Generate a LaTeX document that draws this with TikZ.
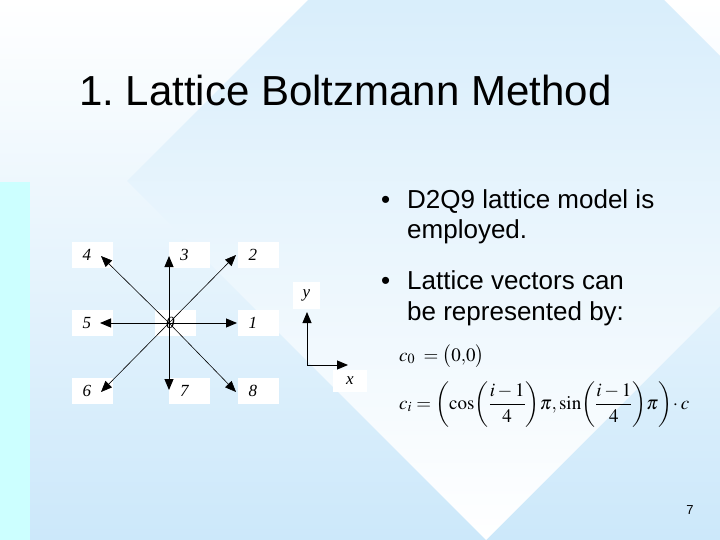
\documentclass[tikz,border=0pt]{standalone}
\usepackage{amsmath}
\usepackage{mathptmx}
\usepackage[no-math]{fontspec}
\setmainfont{Liberation Sans}
\newfontfamily\labelfont{Liberation Serif}
\usetikzlibrary{arrows.meta}
\definecolor{slideblue}{RGB}{204,232,250}
\definecolor{stripcyan}{RGB}{204,255,255}
\frenchspacing
\tikzstyle{box}=[fill=white, minimum height=26pt, inner ysep=0pt, inner xsep=11pt, text width=19pt, align=left, font=\labelfont\itshape\fontsize{17}{17}\selectfont]
\tikzstyle{axbox}=[fill=white, minimum width=27pt, minimum height=27pt, inner sep=0pt, font=\labelfont\itshape\fontsize{17}{17}\selectfont]
\tikzstyle{vec}=[-{Triangle[length=11pt,width=9pt]}, line width=0.9pt]
\tikzstyle{dvec}=[-{Triangle[length=11pt,width=9pt]}, line width=0.6pt]
\tikzstyle{body}=[anchor=base west, inner sep=0pt, font=\fontsize{26}{30}\selectfont]
\tikzstyle{formula}=[anchor=base west, inner sep=0pt, font=\fontsize{19}{19}\selectfont]

\begin{document}
\begin{tikzpicture}[x=1pt,y=-1pt]
	\useasboundingbox (0,0) rectangle (720,540);
	% slide background
	\begin{scope}
		\clip (0,0) rectangle (720,540);
		\shade[top color=white, bottom color=slideblue] (0,0) rectangle (720,540);
		\shade[top color=slideblue, bottom color=white] (127,181) -- (486,-178) -- (845,181) -- (486,540) -- cycle;
		\fill[stripcyan] (0,182) rectangle (30,540);
	\end{scope}
	% title
	\node[anchor=base west, inner sep=0pt, font=\fontsize{42}{42}\selectfont] (title) at (79,106) {1. Lattice Boltzmann Method};
	% bullets
	\node[body] (bul1) at (381,208) {\textbullet};
	\node[body] (txt1a) at (407,208) {D2Q9 lattice model is};
	\node[body] (txt1b) at (407,239) {employed.};
	\node[body] (bul2) at (381,289) {\textbullet};
	\node[body] (txt2a) at (407,289) {Lattice vectors can};
	\node[body] (txt2b) at (407,320) {be represented by:};
	% formulas
	\node[formula] (eq0) at (399,361) {$c_0 \;=\bigl(0{,}0\bigr)$};
	\node[formula] (eqi) at (399,409) {$c_i =\left(\cos\!\left(\dfrac{i-1}{4}\right)\!\pi,\sin\!\left(\dfrac{i-1}{4}\right)\!\pi\right)\!\cdot c$};
	% D2Q9 lattice
	\node[box] (b4) at (92,255) {4};
	\node[box] (b3) at (189.5,255) {3};
	\node[box] (b2) at (258,255) {2};
	\node[box] (b5) at (92,323) {5};
	\node[box] (b0) at (175.5,323) {0};
	\node[box] (b1) at (258,323) {1};
	\node[box] (b6) at (92,391) {6};
	\node[box] (b7) at (189.5,391) {7};
	\node[box] (b8) at (258,391) {8};
	\coordinate (c) at (169,323);
	\coordinate (t1) at (237,323);
	\coordinate (t2) at (236,255);
	\coordinate (t3) at (169,256);
	\coordinate (t4) at (101,256);
	\coordinate (t5) at (100,323);
	\coordinate (t6) at (101,392);
	\coordinate (t7) at (169,390);
	\coordinate (t8) at (236,392);
	\draw[vec] (c) -- (t1);
	\draw[vec] (c) -- (t3);
	\draw[vec] (c) -- (t5);
	\draw[vec] (c) -- (t7);
	\draw[dvec] (c) -- (t2);
	\draw[dvec] (c) -- (t4);
	\draw[dvec] (c) -- (t6);
	\draw[dvec] (c) -- (t8);
	% axes
	\node[axbox] (ylab) at (306.5,295.5) {y};
	\node[axbox, minimum width=34pt, minimum height=22pt] (xlab) at (350,381) {x};
	\coordinate (o) at (307,365);
	\coordinate (ty) at (307,312);
	\coordinate (tx) at (348,365);
	\draw[vec] (o) -- (ty);
	\draw[vec] (o) -- (tx);
	% page number
	\node[inner sep=0pt, font=\fontsize{13}{13}\selectfont] (page) at (690,510) {7};
\end{tikzpicture}
\end{document}
